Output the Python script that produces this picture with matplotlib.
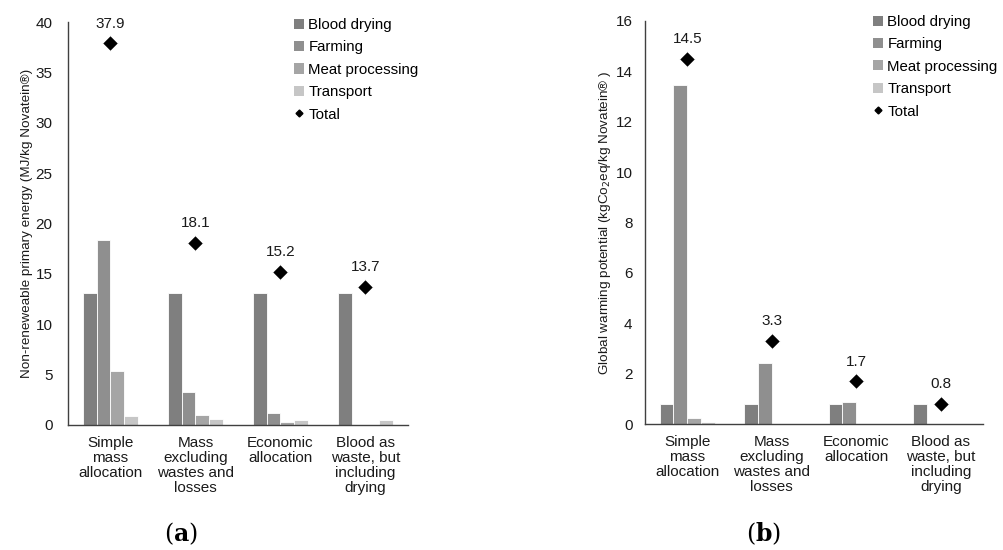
import matplotlib
matplotlib.use("Agg")
import matplotlib.pyplot as plt
import numpy as np
from matplotlib.patches import Patch
from matplotlib.lines import Line2D

plt.rcParams['font.family'] = ['Liberation Sans', 'DejaVu Sans']

categories = ["Simple\nmass\nallocation", "Mass\nexcluding\nwastes and\nlosses",
              "Economic\nallocation", "Blood as\nwaste, but\nincluding\ndrying"]
series_names = ["Blood drying", "Farming", "Meat processing", "Transport"]
colors = ["#7f7f7f", "#8f8f8f", "#a5a5a5", "#c6c6c6"]

# (a) Non-renewable primary energy
energy_blood = [13.1, 13.1, 13.1, 13.1]
energy_farming = [18.4, 3.3, 1.15, 0.0]
energy_meat = [5.4, 1.0, 0.3, 0.0]
energy_transport = [0.9, 0.6, 0.5, 0.5]
energy_total = [37.9, 18.1, 15.2, 13.7]

# (b) Global warming potential
gwp_blood = [0.79, 0.79, 0.79, 0.79]
gwp_farming = [13.45, 2.43, 0.86, 0.0]
gwp_meat = [0.23, 0.01, 0.01, 0.0]
gwp_transport = [0.07, 0.01, 0.01, 0.01]
gwp_total = [14.5, 3.3, 1.7, 0.8]

fig = plt.figure(figsize=(10.04, 5.5), dpi=100)

def draw(ax, series, total, ymax, ystep, ylabel, ypad, lpad, lx, ly):
    x = np.arange(len(categories))
    w = 0.163
    offs = [-1.5 * w, -0.5 * w, 0.5 * w, 1.5 * w]
    for vals, c, o in zip(series, colors, offs):
        ax.bar(x + o, vals, width=w, color=c, edgecolor='white', linewidth=0.6, zorder=2)
    ax.plot(x, total, linestyle='none', marker='D', markersize=8, color='black',
            markeredgecolor='white', markeredgewidth=0.8, zorder=4)
    for xi, t in zip(x, total):
        ax.annotate(f"{t:.1f}", (xi, t), xytext=(0, 9), textcoords='offset points',
                    ha='center', va='bottom', fontsize=11, color='#1a1a1a')
    ax.set_xlim(-0.5, len(categories) - 0.5)
    ax.set_ylim(0, ymax)
    ax.set_yticks(np.arange(0, ymax + 0.001, ystep))
    ax.set_xticks(x)
    ax.set_xticklabels(categories, fontsize=11, linespacing=1.1, color='#1a1a1a')
    ax.tick_params(axis='y', length=0, pad=ypad, labelsize=11, labelcolor='#1a1a1a')
    ax.tick_params(axis='x', length=0, pad=8)
    for s in ['top', 'right']:
        ax.spines[s].set_visible(False)
    for s in ['left', 'bottom']:
        ax.spines[s].set_color('#404040')
        ax.spines[s].set_linewidth(1.0)
    ax.set_ylabel(ylabel, fontsize=9.7, color='#1a1a1a', labelpad=lpad)
    handles = [Patch(facecolor=c, edgecolor='none') for c in colors]
    handles.append(Line2D([], [], linestyle='none', marker='D', markersize=3.5,
                          color='black'))
    ax.legend(handles, series_names + ["Total"], loc='upper left',
              bbox_to_anchor=(lx, ly), frameon=False, fontsize=10.8,
              handlelength=0.65, handleheight=0.65, handletextpad=0.3,
              labelspacing=0.56, borderaxespad=0, borderpad=0)

ax1 = fig.add_axes([68 / 1004, 125 / 550, 340 / 1004, 403 / 550])
draw(ax1, [energy_blood, energy_farming, energy_meat, energy_transport], energy_total,
     40, 5, "Non-reneweable primary energy (MJ/kg Novatein®)", 11, 2, 0.665, 1.01)

ax2 = fig.add_axes([645 / 1004, 126 / 550, 338 / 1004, 403 / 550])
draw(ax2, [gwp_blood, gwp_farming, gwp_meat, gwp_transport], gwp_total,
     16, 2, "Global warming potential (kgCo$_2$eq/kg Novatein® )", 9, 2, 0.675, 1.015)

fig.text(181 / 1004, 1 - 534 / 550, r"$(\mathbf{a})$", fontsize=17,
         math_fontfamily='dejavuserif', ha='center', va='center')
fig.text(764 / 1004, 1 - 534 / 550, r"$(\mathbf{b})$", fontsize=17,
         math_fontfamily='dejavuserif', ha='center', va='center')

fig.savefig("out.png", dpi=100)
